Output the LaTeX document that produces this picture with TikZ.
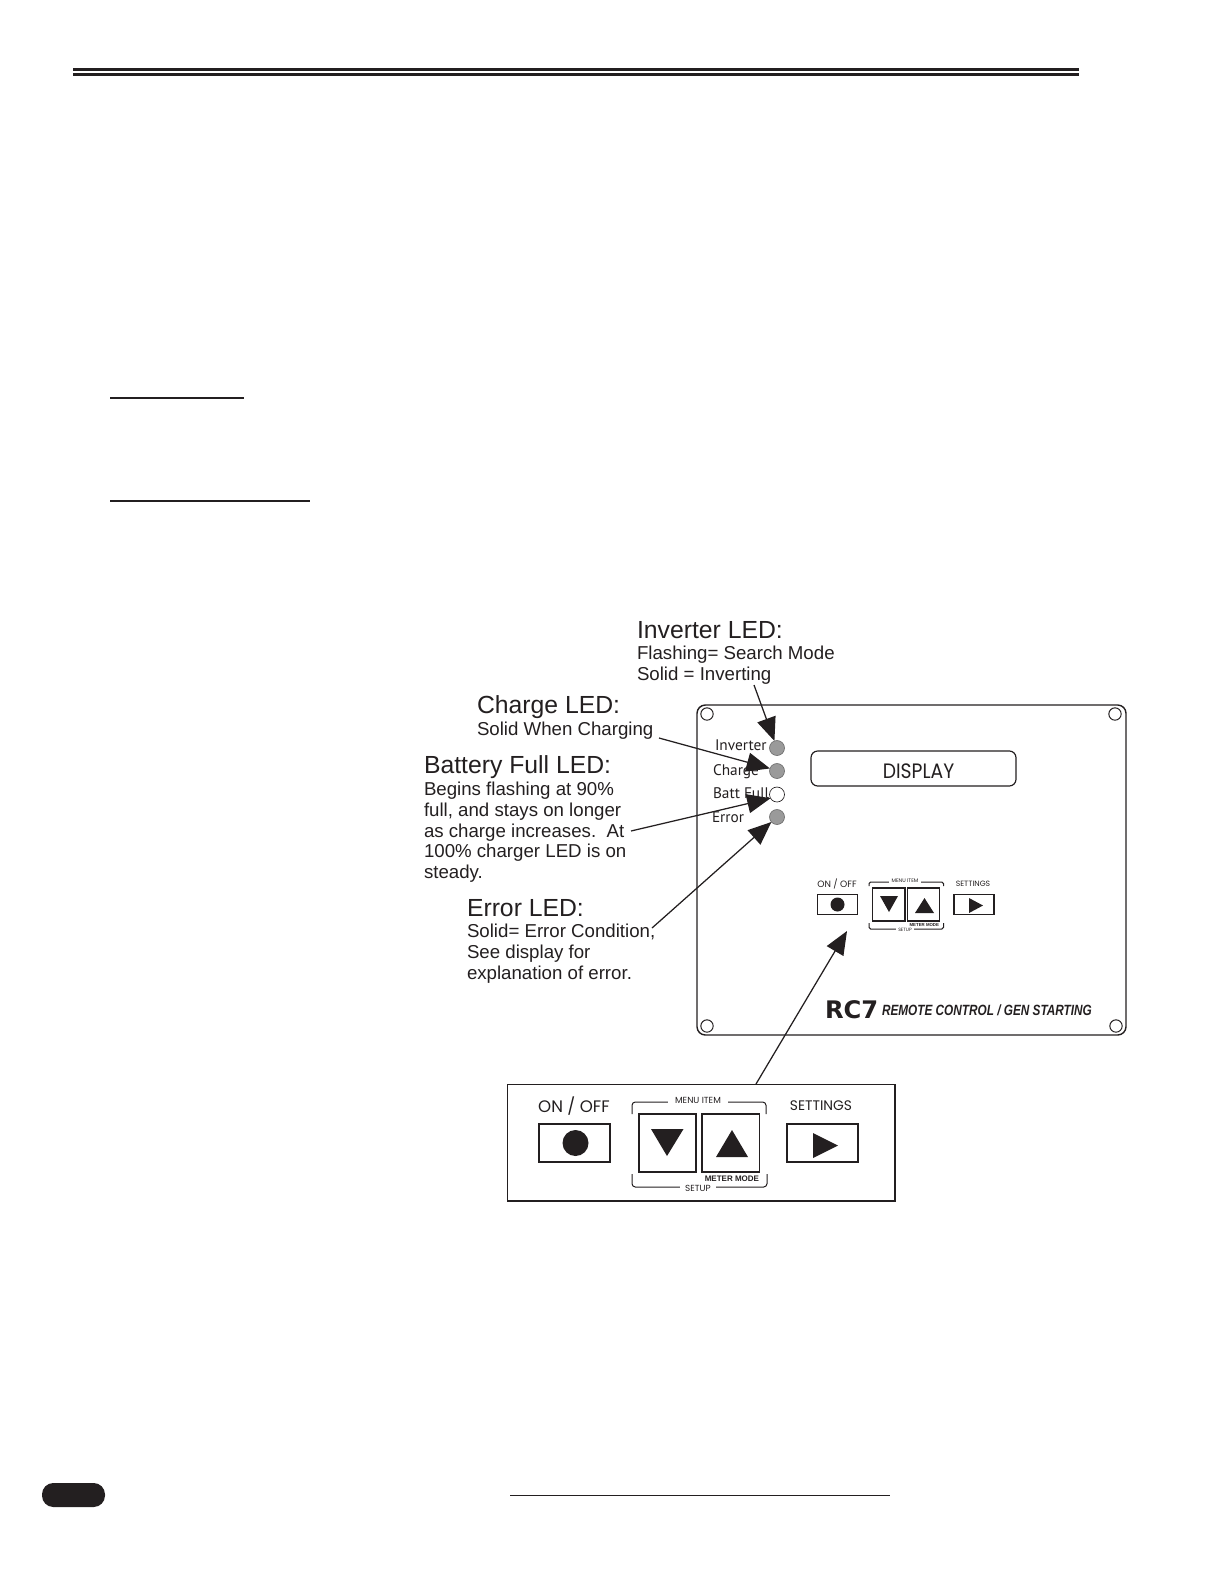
\documentclass[tikz,border=0pt]{standalone}
\usepackage{fontspec}
\setmainfont{Liberation Sans}
\newfontfamily\ledfont{PT Sans}
\newfontfamily\keyfont{Poppins}
\newfontfamily\logofont{DejaVu Sans}
\usetikzlibrary{arrows.meta,positioning}
\definecolor{ink}{HTML}{231F20}
\definecolor{ledgray}{HTML}{9A9A9A}
\definecolor{ledrim}{HTML}{6E6E6E}

\begin{document}
\begin{tikzpicture}[
  x=0.6pt, y=-0.6pt,
  every node/.style={text=ink, inner sep=0pt, outer sep=0pt},
  callout/.style={anchor=north west, align=left, font=\fontsize{11.2}{12.45}\selectfont},
  callout arrow/.style={-{Triangle[length=14pt, width=11.5pt]}, ink, line width=0.75pt},
  led/.style={circle, draw=ledrim, fill=ledgray, line width=0.4pt, minimum size=9pt},
  ledlabel/.style={anchor=base west, font=\ledfont\fontsize{9.2}{10}\selectfont},
  hole/.style={circle, draw=ink, line width=0.6pt, minimum size=7.4pt},
  smallkey/.style={draw=ink, line width=0.8pt},
  bigkey/.style={draw=ink, line width=0.65pt}
]
  \useasboundingbox (0,0) rectangle (1224,1584);

  % page rules
  \fill[ink] (73,68) rectangle (1079,71);
  \fill[ink] (73,73) rectangle (1079,76);
  \draw[ink, line width=0.7pt] (110,398) -- (244,398);
  \draw[ink, line width=0.7pt] (110,501) -- (310,501);
  \draw[ink, line width=0.6pt] (510,1495) -- (890,1495);
  \fill[ink, rounded corners=6.8pt] (42,1483) rectangle (105,1507);

  % remote panel
  \node[draw=ink, line width=0.85pt, rounded corners=5pt, minimum width=257.4pt, minimum height=198pt] (panel) at (911.5,870) {};
  \foreach \hx/\hy [count=\i] in {707/714, 1115/714, 707/1026, 1116/1026}
    \node[hole] (hole\i) at (\hx,\hy) {};

  \node[led] (invled) at (777,748) {};
  \node[led] (chargeled) at (777,771) {};
  \node[led, fill=white, draw=ink] (battled) at (777,794.5) {};
  \node[led] (errorled) at (777,817) {};
  \node[ledlabel] (invlabel) at (715,750) {Inverter};
  \node[ledlabel] (chargelabel) at (713,775) {Charge};
  \node[ledlabel] (battlabel) at (713,798) {Batt Full};
  \node[ledlabel] (errorlabel) at (712,822) {Error};

  \node[draw=ink, line width=0.7pt, rounded corners=4pt, minimum width=123pt, minimum height=21pt] (display) at (913.5,768.5) {};
  \node[font=\keyfont\fontsize{12.5}{13}\selectfont, xscale=0.9, transform shape] (displaytext) at (918.5,771.5) {DISPLAY};

  % small keys on the panel
  \node[font=\keyfont\fontsize{5.5}{6}\selectfont] (onofflabel) at (837,884) {ON / OFF};
  \node[smallkey, minimum width=24pt, minimum height=12.3pt] (onoffkey) at (837.5,904.5) {};
  \fill[ink] (onoffkey) circle (7);
  \node[smallkey, minimum width=19.5pt, minimum height=19.8pt] (downkey) at (888.7,904.5) {};
  \node[smallkey, minimum width=19.2pt, minimum height=19.8pt] (upkey) at (923.5,904.5) {};
  \fill[ink] (880,896) -- (898,896) -- (889,912) -- cycle;
  \fill[ink] (915,913) -- (934,913) -- (924.5,898) -- cycle;
  \draw[ink, line width=0.6pt, rounded corners=1pt] (869,886) -- (869,882) -- (943.5,882) -- (943.5,886);
  \draw[ink, line width=0.6pt, rounded corners=1pt] (869,923) -- (869,929) -- (943.5,929) -- (943.5,923);
  \node[fill=white, inner xsep=1.5pt, font=\keyfont\fontsize{3.1}{3.5}\selectfont] (menusmall) at (905,881) {MENU ITEM};
  \node[fill=white, inner xsep=1.5pt, font=\keyfont\fontsize{2.8}{3}\selectfont] (setupsmall) at (905,930) {SETUP};
  \node[anchor=east, font=\bfseries\fontsize{2.6}{3}\selectfont] (metersmall) at (939,925) {METER MODE};
  \node[font=\keyfont\fontsize{4.6}{6}\selectfont] (settingslabel) at (973,884) {SETTINGS};
  \node[smallkey, minimum width=24pt, minimum height=12.3pt] (settingskey) at (974,904.5) {};
  \fill[ink] (969,898) -- (983,905.5) -- (969,913) -- cycle;

  \node[anchor=base west, font=\logofont\bfseries\fontsize{14.5}{15}\selectfont, xscale=1.0, transform shape] (rcname) at (825,1018) {RC7};
  \node[anchor=base west, font=\bfseries\itshape\fontsize{8.9}{10}\selectfont, xscale=0.795, transform shape] (rctitle) at (882,1015) {REMOTE CONTROL / GEN STARTING};

  % enlarged keys
  \node[draw=ink, line width=0.7pt, minimum width=232.5pt, minimum height=69.9pt] (keyframe) at (701.25,1142.75) {};
  \node[font=\keyfont\fontsize{10}{12}\selectfont] (onoffbig) at (574,1106) {ON / OFF};
  \node[bigkey, minimum width=42.6pt, minimum height=22.8pt] (onoffbigkey) at (574.5,1143) {};
  \fill[ink] (575.5,1143) circle (13);
  \node[bigkey, minimum width=34.2pt, minimum height=34.8pt] (downbig) at (667.5,1143) {};
  \node[bigkey, minimum width=34.5pt, minimum height=34.8pt] (upbig) at (730.7,1143) {};
  \fill[ink] (651,1129) -- (683.5,1129) -- (667,1156) -- cycle;
  \fill[ink] (716,1157) -- (748,1157) -- (732,1130) -- cycle;
  \draw[ink, line width=0.6pt, rounded corners=2pt] (632,1114) -- (632,1102) -- (766,1102) -- (766,1114);
  \draw[ink, line width=0.6pt, rounded corners=2pt] (632,1174) -- (632,1187) -- (767,1187) -- (767,1174);
  \node[fill=white, inner xsep=4pt, font=\keyfont\fontsize{5.3}{6}\selectfont] (menubig) at (698,1100) {MENU ITEM};
  \node[fill=white, inner xsep=3pt, font=\keyfont\fontsize{5.3}{6}\selectfont] (setupbig) at (698,1188) {SETUP};
  \node[anchor=east, font=\bfseries\fontsize{4.8}{6}\selectfont] (meterbig) at (759,1179) {METER MODE};
  \node[font=\keyfont\fontsize{8.3}{12}\selectfont] (settingsbig) at (821,1106) {SETTINGS};
  \node[bigkey, minimum width=42.6pt, minimum height=22.8pt] (settingsbigkey) at (822.5,1143) {};
  \fill[ink] (813,1133) -- (838,1145.5) -- (813,1158) -- cycle;

  % callouts
  \node[callout] (invtext) at (637,621)
    {{\fontsize{14.85}{15}\selectfont Inverter LED:}\\[0.6pt]Flashing= Search Mode\\Solid = Inverting};
  \node[callout] (chargetext) at (477,696)
    {{\fontsize{14.85}{15}\selectfont Charge LED:}\\[0.6pt]Solid When Charging};
  \node[callout] (batttext) at (424,756)
    {{\fontsize{14.85}{15}\selectfont Battery Full LED:}\\[0.6pt]Begins flashing at 90\%\\full, and stays on longer\\as charge increases.\ \ At\\100\% charger LED is on\\steady.};
  \node[callout] (errortext) at (467,899)
    {{\fontsize{14.85}{15}\selectfont Error LED:}\\[0.6pt]Solid= Error Condition,\\See display for\\explanation of error.};

  \coordinate (invstart) at (754,685);
  \coordinate (chargestart) at (659,738);
  \coordinate (battstart) at (631,831);
  \coordinate (errorstart) at (652,928);
  \coordinate (keystart) at (756,1084);
  \coordinate (keytip) at (847,931);

  \draw[callout arrow] (invstart) -- (invled);
  \draw[callout arrow] (chargestart) -- (chargeled.160);
  \draw[callout arrow] (battstart) -- (battled.210);
  \draw[callout arrow] (errorstart) -- (errorled);
  \draw[callout arrow] (keystart) -- (keytip);
\end{tikzpicture}
\end{document}
